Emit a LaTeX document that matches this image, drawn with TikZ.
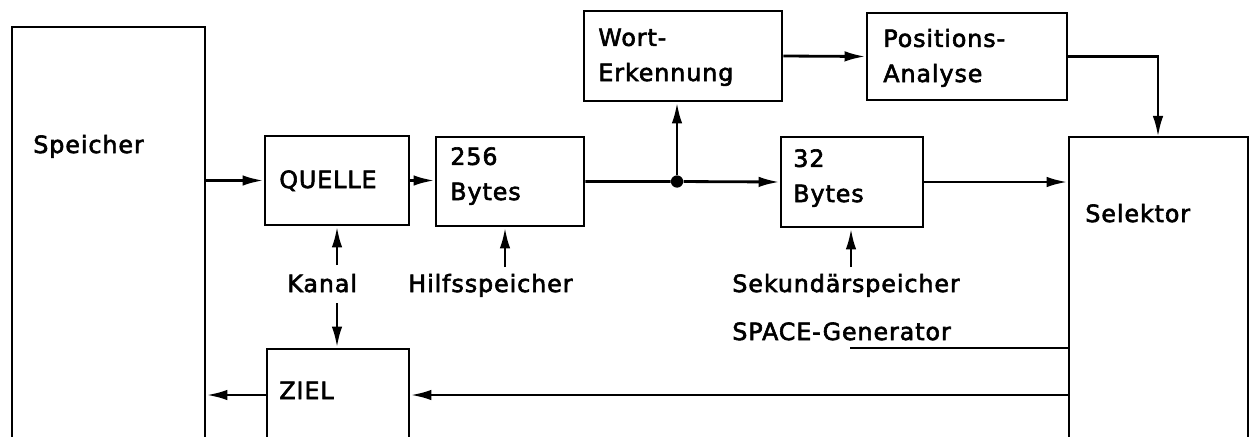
\documentclass[tikz,border=0pt]{standalone}
\usepackage{fontspec}
\setmainfont{DejaVu Sans}[LetterSpace=4, FakeBold=2.5]
\usepackage{tikz}
\usetikzlibrary{arrows.meta, positioning, fit, calc}

\tikzset{
  box/.style={draw, line width=1.6pt, inner sep=0pt},
  flow/.style={line width=1.6pt, -{Latex[length=12pt, width=6pt]}},
  wire/.style={line width=1.6pt},
  lbl/.style={anchor=base west, inner sep=0pt, align=left,
    font=\fontsize{13.5}{20}\selectfont},
  dot/.style={circle, fill, inner sep=0pt, minimum size=7pt}
}

\begin{document}
\begin{tikzpicture}[x=0.02cm, y=-0.02cm]
  \useasboundingbox (0,0) rectangle (1253,436);
  \clip (0,0) rectangle (1253,436);
  % Boxes
  \node[box, fit={(12,27) (205,470)}] (speicher) {};
  \node[box, fit={(265,136) (409,225)}] (quelle) {};
  \node[box, fit={(267,349) (409,441)}] (ziel) {};
  \node[box, fit={(436,137) (584,226)}] (bytesA) {};
  \node[box, fit={(584,11) (782,101)}] (wort) {};
  \node[box, fit={(781,137) (923,227)}] (bytesB) {};
  \node[box, fit={(867,13) (1067,100)}] (pos) {};
  \node[box, fit={(1069,137) (1248,470)}] (selektor) {};
  % Texts (multi-line ones sit on their last baseline)
  \node[lbl] (tspeicher) at (33,153) {Speicher};
  \node[lbl] (tquelle) at (279,188) {QUELLE};
  \node[lbl] (tziel) at (279,399) {ZIEL};
  \node[lbl] (tbytesA) at (450,200) {256\\Bytes};
  \node[lbl] (twort) at (598,81) {Wort-\\Erkennung};
  \node[lbl] (tbytesB) at (793,202) {32\\Bytes};
  \node[lbl] (tpos) at (883,82) {Positions-\\Analyse};
  \node[lbl] (tselektor) at (1085,222) {Selektor};
  \node[lbl] (kanal) at (287,292) {Kanal};
  \node[lbl] (hilfs) at (408,292) {Hilfsspeicher};
  \node[lbl] (sekund) at (732,292) {Sekundärspeicher};
  \node[lbl] (space) at (732,340) {SPACE-Generator};
  % Connector ends
  \node[dot] (junc) at (677,181.5) {};
  \coordinate (kanalup) at (337,265);
  \coordinate (kanaldn) at (337,303);
  \coordinate (hilfsup) at (505,267);
  \coordinate (sekundup) at (851,267);
  \coordinate (selin) at (1158,137);
  \coordinate (gen) at (850,348);
  % Arrows
  \draw[flow] (quelle.west -| speicher.east) -- (quelle.west);
  \draw[flow] (quelle.east) -- (quelle.east -| bytesA.west);
  \draw[wire] (bytesA.east) -- (junc);
  \draw[flow] (junc) -- (bytesB.west);
  \draw[flow] (junc) -- (junc |- wort.south);
  \draw[flow] (wort.east) -- (pos.west);
  \draw[flow] (pos.east) -| (selin);
  \draw[flow] (bytesB.east) -- (bytesB.east -| selektor.west);
  \draw[flow] (kanalup) -- (kanalup |- quelle.south);
  \draw[flow] (kanaldn) -- (kanaldn |- ziel.north);
  \draw[flow] (hilfsup) -- (hilfsup |- bytesA.south);
  \draw[flow] (sekundup) -- (sekundup |- bytesB.south);
  \draw[wire] (gen) -- (gen -| selektor.west);
  \draw[flow] (ziel.east -| selektor.west) -- (ziel.east);
  \draw[flow] (ziel.west) -- (ziel.west -| speicher.east);
\end{tikzpicture}
\end{document}
